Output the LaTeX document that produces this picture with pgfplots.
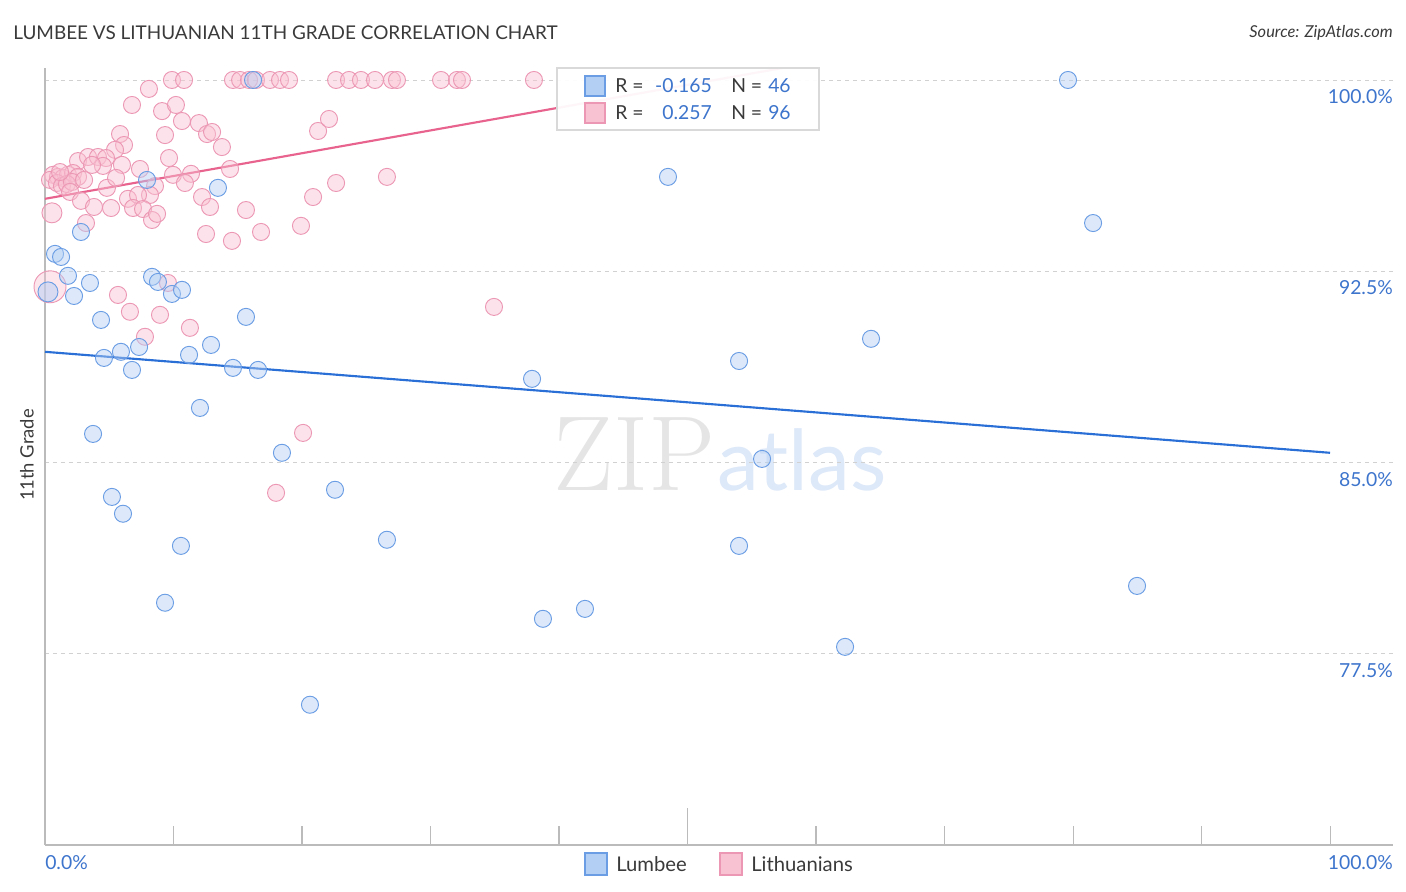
\documentclass[border=0pt]{standalone}
\usepackage{pgfplots}
\pgfplotsset{compat=1.18}
\usepackage{fontspec}
\setmainfont{Lato}
\definecolor{blueedge}{HTML}{6A9DE4}
\definecolor{bluefill}{HTML}{B3CFF4}
\definecolor{blueline}{HTML}{2A6FD6}
\definecolor{pinkedge}{HTML}{EC98B4}
\definecolor{pinkfill}{HTML}{F9C2D3}
\definecolor{pinkline}{HTML}{E8648F}
\definecolor{ticktext}{HTML}{3D74CC}
\definecolor{axgray}{HTML}{BBBBBB}
\definecolor{titlegray}{HTML}{3A3A3A}

\begin{document}
\begin{tikzpicture}
\useasboundingbox (-33.75pt,-35.25pt) rectangle (1020.75pt,633.75pt);

% watermark, behind the data (pixel coordinates)
\begin{scope}[shift={(-33.75pt,633.75pt)}, x=0.75pt, y=-0.75pt]
\node[anchor=base west, inner sep=0pt, text=black!10, font=\fontspec{Latin Modern Roman}\fontsize{80}{80}\selectfont] at (553,491) {ZIP};
\node[anchor=base west, inner sep=0pt, text=blueline!16, font=\fontsize{63}{63}\selectfont] at (717,491) {atlas};
\end{scope}

\begin{axis}[
    at={(0,0)}, anchor=south west,
    scale only axis,
    width=1011pt, height=582.75pt,
    xmin=0, xmax=104.9,
    ymin=70, ymax=100.47,
    axis x line*=bottom, axis y line*=left,
    axis line style={draw=axgray, line width=0.8pt},
    xtick={10,20,30,40,60,70,80,90,100},
    xticklabels={},
    extra x ticks={50},
    extra x tick labels={},
    extra x tick style={major tick length=28pt},
    tick align=inside,
    major tick length=14pt,
    xtick style={draw=axgray, line width=0.8pt},
    ytick={77.5,85,92.5,100},
    yticklabels={},
    ytick style={draw=none},
    ymajorgrids=true,
    grid style={draw=black!18, dash pattern=on 3pt off 3pt, line width=0.6pt},
    clip=true,
]

% Lithuanians
\addplot[only marks, mark=*, mark size=6.4pt,
    mark options={draw=pinkedge, fill=pinkfill, fill opacity=0.45, line width=0.7pt}]
coordinates {
(9.88,100)(10.82,100)(14.63,100)(15.18,100)(15.88,100)(16.42,100)(17.51,100)
(18.29,100)(18.99,100)(22.65,100)(23.66,100)(24.59,100)(25.68,100)(27.00,100)
(27.39,100)(30.82,100)(32.06,100)(32.45,100)(38.05,100)
(8.09,99.65)(6.77,99.02)(9.11,98.78)(10.19,99.02)(10.66,98.39)(11.98,98.31)
(12.61,97.88)(13.00,97.96)(13.77,97.37)(9.34,97.84)(5.84,97.88)(6.15,97.45)
(5.45,97.26)(2.57,96.82)(3.35,96.98)(4.12,96.98)(4.75,96.94)(4.51,96.63)
(5.99,96.67)(9.65,96.94)(7.39,96.51)(9.96,96.28)(11.36,96.32)(10.89,95.96)
(14.40,96.51)(0.62,96.28)(1.01,96.20)(1.40,96.16)(1.79,96.28)(2.18,96.35)
(2.57,96.20)(0.39,96.08)(0.93,95.96)(1.32,95.84)(1.71,95.92)(2.10,96.00)
(3.04,96.08)(1.95,95.61)(4.82,95.77)(5.53,96.16)(8.56,95.84)(8.17,95.49)
(2.80,95.26)(3.81,95.02)(5.14,94.98)(6.46,95.34)(7.24,95.49)(6.85,94.98)
(7.63,94.94)(8.33,94.51)(8.72,94.75)(3.19,94.39)(12.22,95.41)(12.84,95.02)
(12.53,93.96)(14.55,93.69)(15.64,94.90)(16.81,94.04)(19.92,94.28)(20.86,95.41)
(21.25,98.00)(5.68,91.57)(6.61,90.91)(8.95,90.79)(9.57,92.04)(11.28,90.28)
(7.78,89.93)(22.10,98.47)(22.65,95.96)(26.61,96.20)(20.08,86.16)(17.98,83.81)
(34.94,91.10)(1.17,96.39)(3.66,96.67)
};
\addplot[only marks, mark=*, mark size=7.5pt,
    mark options={draw=pinkedge, fill=pinkfill, fill opacity=0.45, line width=0.7pt}]
coordinates {(0.54,94.79)};
\addplot[only marks, mark=*, mark size=12pt,
    mark options={draw=pinkedge, fill=pinkfill, fill opacity=0.4, line width=0.7pt}]
coordinates {(0.39,91.89)};

% Lumbee
\addplot[only marks, mark=*, mark size=6.4pt,
    mark options={draw=blueedge, fill=bluefill, fill opacity=0.45, line width=0.7pt}]
coordinates {
(79.61,100)(16.19,100)(48.48,96.20)(81.56,94.39)(13.46,95.77)(7.94,96.08)
(2.80,94.04)(0.78,93.18)(1.25,93.06)(1.79,92.32)(3.50,92.04)(2.26,91.53)
(8.33,92.28)(8.79,92.08)(9.88,91.61)(10.66,91.77)(4.36,90.59)
(15.64,90.71)(4.59,89.10)(5.91,89.34)(7.32,89.53)(11.21,89.22)(12.92,89.61)
(6.77,88.63)(14.63,88.71)(16.58,88.63)(37.90,88.28)(54.01,88.98)(64.28,89.85)
(12.06,87.14)(3.74,86.12)(18.44,85.38)(55.80,85.14)(5.21,83.65)(22.57,83.93)
(6.07,82.99)(10.58,81.73)(26.61,81.97)(54.01,81.73)(84.98,80.16)(9.34,79.50)
(42.02,79.26)(38.75,78.87)(62.26,77.77)(20.62,75.50)
};
\addplot[only marks, mark=*, mark size=7.5pt,
    mark options={draw=blueedge, fill=bluefill, fill opacity=0.5, line width=0.7pt}]
coordinates {(0.23,91.69)};

% trend lines
\addplot[draw=blueline, line width=1.6pt] coordinates {(0,89.34)(100,85.38)};
\addplot[draw=pinkline, line width=1.6pt] coordinates {(0,95.34)(57.4,100.47)};
\end{axis}

% annotations (pixel coordinates)
\begin{scope}[shift={(-33.75pt,633.75pt)}, x=0.75pt, y=-0.75pt]
\node[anchor=west, inner sep=0pt, text=titlegray, font=\fontsize{14.2}{15}\selectfont] at (13,33) {LUMBEE VS LITHUANIAN 11TH GRADE CORRELATION CHART};
\node[anchor=east, inner sep=0pt, text=titlegray, font=\itshape\fontsize{12.3}{13}\selectfont] at (1393,33) {Source: ZipAtlas.com};

% y tick labels
\begin{scope}[every node/.style={anchor=east, inner sep=0pt, text=ticktext, font=\fontsize{14.5}{15}\selectfont}]
\node at (1393,97) {100.0\%};
\node at (1393,288) {92.5\%};
\node at (1393,480) {85.0\%};
\node at (1393,671) {77.5\%};
\end{scope}

% in-chart legend
\fill[white, fill opacity=0.94] (557,68) rectangle (819,130);
\draw[black!15, line width=0.8pt] (557,68) rectangle (819,130);
\filldraw[draw=blueedge, fill=bluefill, line width=0.8pt] (585,76) rectangle (605,96);
\filldraw[draw=pinkedge, fill=pinkfill, line width=0.8pt] (585,103) rectangle (605,123);
\begin{scope}[every node/.style={inner sep=0pt, font=\fontsize{14.5}{15}\selectfont}]
\node[anchor=west, text=titlegray] at (615,86) {R =};
\node[anchor=east, text=ticktext] at (712,86) {-0.165};
\node[anchor=west, text=titlegray] at (731,86) {N =};
\node[anchor=west, text=ticktext] at (768,86) {46};
\node[anchor=west, text=titlegray] at (615,113) {R =};
\node[anchor=east, text=ticktext] at (712,113) {0.257};
\node[anchor=west, text=titlegray] at (731,113) {N =};
\node[anchor=west, text=ticktext] at (768,113) {96};
\end{scope}

% x labels
\node[anchor=west, inner sep=0pt, text=ticktext, font=\fontsize{14.5}{15}\selectfont] at (45,863) {0.0\%};
\node[anchor=east, inner sep=0pt, text=ticktext, font=\fontsize{14.5}{15}\selectfont] at (1393,863) {100.0\%};

% y label
\node[rotate=90, inner sep=0pt, text=titlegray, font=\fontsize{13.8}{14}\selectfont] at (27,455) {11th Grade};

% bottom legend
\filldraw[draw=blueedge, fill=bluefill, line width=0.8pt] (585,853) rectangle (607,875);
\node[anchor=west, inner sep=0pt, text=titlegray, font=\fontsize{15.2}{16}\selectfont] at (616,864) {Lumbee};
\filldraw[draw=pinkedge, fill=pinkfill, line width=0.8pt] (720,853) rectangle (742,875);
\node[anchor=west, inner sep=0pt, text=titlegray, font=\fontsize{15.2}{16}\selectfont] at (751,864) {Lithuanians};
\end{scope}
\end{tikzpicture}
\end{document}
